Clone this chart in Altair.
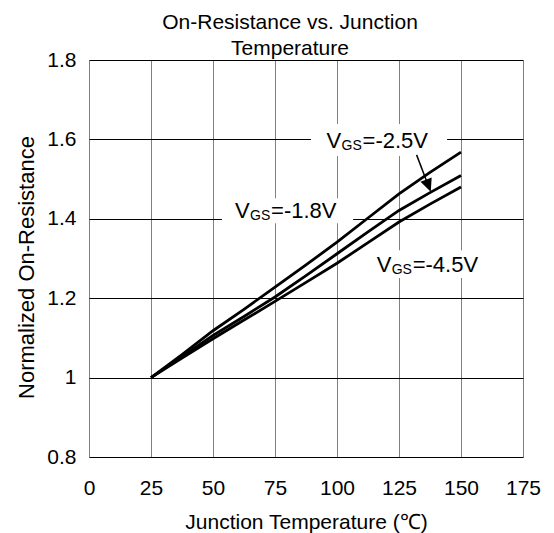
import altair as alt
import pandas as pd

FONT = "Liberation Sans"

# ---- data ----
temps = [25, 37.5, 50, 62.5, 75, 87.5, 100, 112.5, 125, 137.5, 150]
vgs_18 = [1.0, 1.058, 1.118, 1.172, 1.228, 1.284, 1.341, 1.402, 1.463, 1.517, 1.568]
vgs_25 = [1.0, 1.053, 1.106, 1.154, 1.203, 1.257, 1.312, 1.367, 1.421, 1.466, 1.509]
vgs_45 = [1.0, 1.049, 1.098, 1.145, 1.192, 1.240, 1.288, 1.340, 1.392, 1.437, 1.480]

x_ticks = [0, 25, 50, 75, 100, 125, 150, 175]
y_ticks = [0.8, 1.0, 1.2, 1.4, 1.6, 1.8]

# annotation labels (data coordinates: left x, baseline y)
label_x = [95.8, 58.9, 116.0]
label_y = [1.578, 1.401, 1.267]
label_rest = ["=-2.5V", "=-1.8V", "=-4.5V"]
# white boxes behind labels (data coordinates)
box_x1 = [89.5, 53.6, 114.1]
box_x2 = [144.4, 106.5, 160.9]
box_y1 = [1.558, 1.389, 1.251]
box_y2 = [1.639, 1.452, 1.321]
# arrow from the -2.5V label to its curve
arrow_x = [132.1]
arrow_y = [1.561]
arrow_x2 = [136.3]
arrow_y2 = [1.492]
arrow_tip_x = [137.8]
arrow_tip_y = [1.468]

rows = []
for name, vals in [("-1.8V", vgs_18), ("-2.5V", vgs_25), ("-4.5V", vgs_45)]:
    for t, v in zip(temps, vals):
        rows.append({"T": t, "R": v, "s": name})
df = pd.DataFrame(rows)

labels = pd.DataFrame({"x": label_x, "y": label_y, "rest": label_rest})
boxes = pd.DataFrame({"x": box_x1, "x2": box_x2, "y": box_y1, "y2": box_y2})
arrow = pd.DataFrame({"x": arrow_x, "y": arrow_y, "x2": arrow_x2, "y2": arrow_y2})
tip = pd.DataFrame({"x": arrow_tip_x, "y": arrow_tip_y})

xs = alt.Scale(domain=[0, 175], nice=False, zero=False)
ys = alt.Scale(domain=[0.8, 1.8], nice=False, zero=False)

x_axis = alt.Axis(
    values=x_ticks, title="Junction Temperature (℃)", grid=True,
    gridColor="#808080", gridWidth=1, domain=False, ticks=False,
    labelFont=FONT, labelFontSize=21, labelColor="black", labelPadding=20,
    labelFlush=False,
    titleFont=FONT, titleFontSize=21, titleFontWeight="normal", titleColor="black",
    titleX=217, titleY=71, titleBaseline="alphabetic", titleAlign="center",
)
y_axis = alt.Axis(
    values=y_ticks, title="Normalized On-Resistance", grid=True,
    gridColor="black", gridWidth=1, domain=False, ticks=False,
    labelExpr="datum.value == 1 ? '1' : format(datum.value, '.1f')",
    labelFont=FONT, labelFontSize=21, labelColor="black", labelPadding=13,
    labelFlush=False,
    titleFont=FONT, titleFontSize=22, titleFontWeight="normal", titleColor="black",
    titleX=-56, titleY=207, titleAngle=270, titleBaseline="alphabetic",
    titleAlign="center",
)

lines = alt.Chart(df).mark_line(color="black", strokeWidth=2.8).encode(
    x=alt.X("T:Q", scale=xs, axis=x_axis),
    y=alt.Y("R:Q", scale=ys, axis=y_axis),
    detail="s:N",
)

bg = alt.Chart(boxes).mark_rect(color="white").encode(
    x=alt.X("x:Q", scale=xs), x2="x2:Q",
    y=alt.Y("y:Q", scale=ys), y2="y2:Q",
)

t_v = alt.Chart(labels).mark_text(
    text="V", align="left", baseline="alphabetic", font=FONT, fontSize=22, color="black"
).encode(x=alt.X("x:Q", scale=xs), y=alt.Y("y:Q", scale=ys))
t_gs = alt.Chart(labels).mark_text(
    text="GS", align="left", baseline="alphabetic", font=FONT, fontSize=14,
    color="black", dx=15, dy=2
).encode(x=alt.X("x:Q", scale=xs), y=alt.Y("y:Q", scale=ys))
t_rest = alt.Chart(labels).mark_text(
    align="left", baseline="alphabetic", font=FONT, fontSize=22, color="black", dx=36
).encode(x=alt.X("x:Q", scale=xs), y=alt.Y("y:Q", scale=ys), text="rest:N")

shaft = alt.Chart(arrow).mark_rule(color="black", strokeWidth=1.5).encode(
    x=alt.X("x:Q", scale=xs), x2="x2:Q", y=alt.Y("y:Q", scale=ys), y2="y2:Q"
)
head = alt.Chart(tip).mark_point(
    shape="M0,0 L-0.46,-1 L0.46,-1 Z", filled=True, color="black", opacity=1,
    size=676, angle=339, strokeWidth=0
).encode(x=alt.X("x:Q", scale=xs), y=alt.Y("y:Q", scale=ys))

chart = alt.layer(bg, lines, t_v, t_gs, t_rest, shaft, head).properties(
    width=434, height=397,
    autosize=alt.AutoSizeParams(type="none"),
    padding={"left": 81, "top": 52, "right": 23, "bottom": 76},
    title=alt.TitleParams(
        text=["On-Resistance vs. Junction", "Temperature"],
        font=FONT, fontSize=21, fontWeight="normal", color="black",
        anchor="middle", baseline="bottom", offset=-31, lineHeight=26, dx=-16,
    ),
).configure_view(stroke="black", strokeWidth=2).configure(background="white")

chart.save("out.html", embed_options={"renderer": "svg", "actions": False})
